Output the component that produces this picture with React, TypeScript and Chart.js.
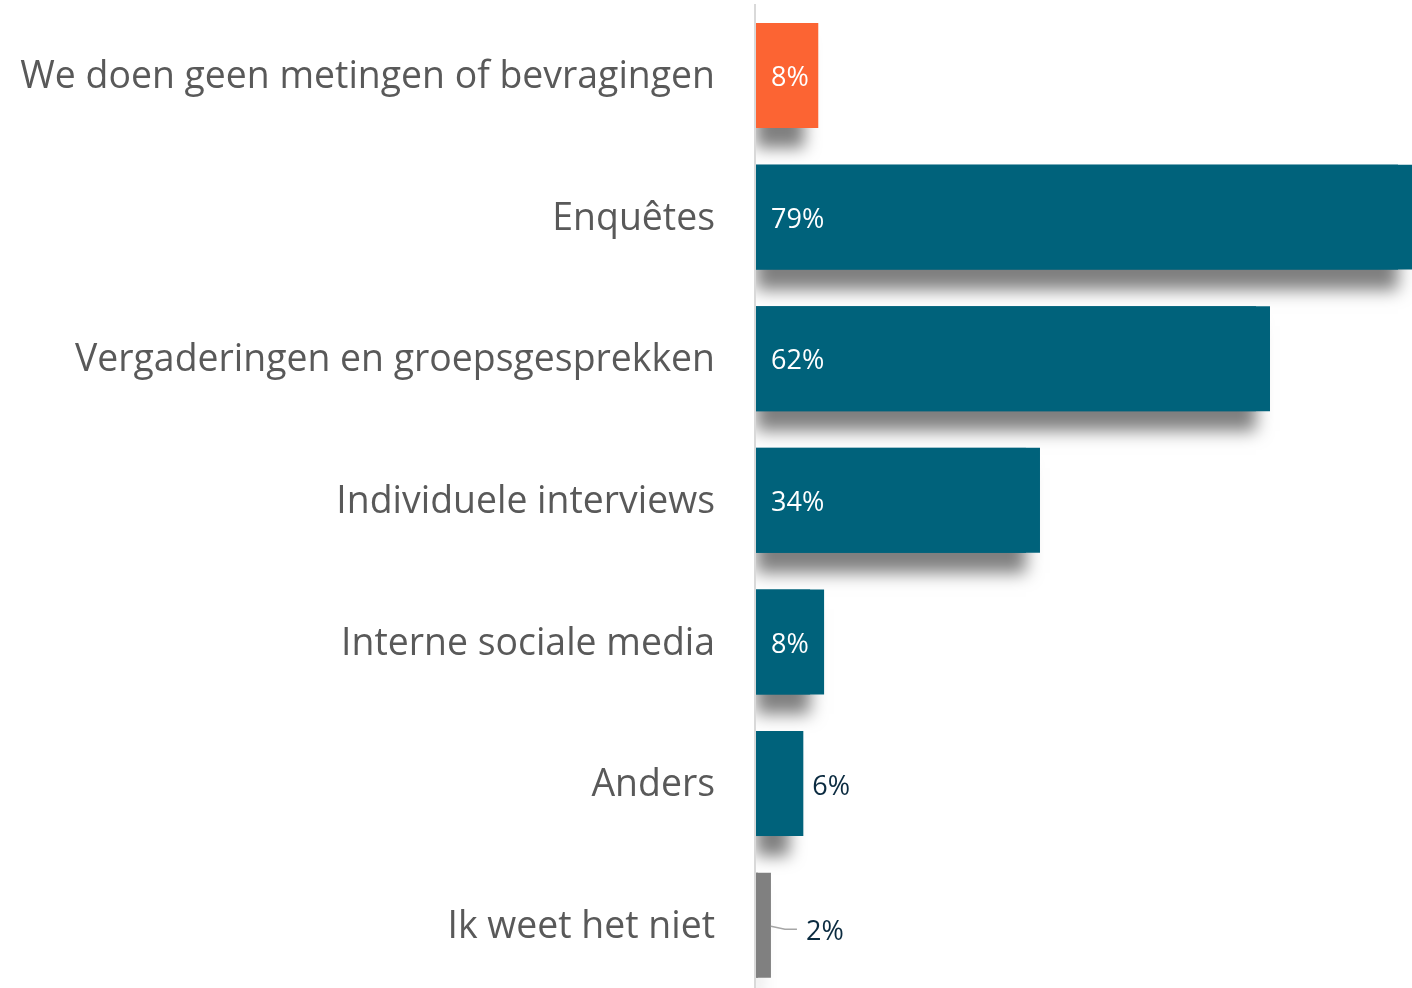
import React, { useEffect, useRef } from 'react';
import { Chart, registerables } from 'chart.js';

Chart.register(...registerables);

const categories = [
  'We doen geen metingen of bevragingen',
  'Enquêtes',
  'Vergaderingen en groepsgesprekken',
  'Individuele interviews',
  'Interne sociale media',
  'Anders',
  'Ik weet het niet',
];
const values = [7.5, 79, 61.9, 34.2, 8.2, 5.7, 1.8];
const valueLabels = ['8%', '79%', '62%', '34%', '8%', '6%', '2%'];
const barColors = ['#FC6433', '#00627B', '#00627B', '#00627B', '#00627B', '#00627B', '#808080'];

const FONT = "'Open Sans', 'Noto Sans', sans-serif";

const shadowPlugin = {
  id: 'barShadow',
  beforeDatasetsDraw(chart: any) {
    const { ctx, chartArea } = chart;
    // axis line
    ctx.save();
    ctx.fillStyle = '#D9D9D9';
    ctx.fillRect(Math.round(chartArea.left) - 2, 4, 2, chart.height);
    ctx.restore();

    const meta = chart.getDatasetMeta(0);
    ctx.save();
    ctx.beginPath();
    ctx.rect(chartArea.left, 0, chart.width, chart.height);
    ctx.clip();
    meta.data.forEach((el: any, i: number) => {
      const { x, y, base, height } = el.getProps(['x', 'y', 'base', 'height'], true);
      const left = Math.min(x, base);
      const w = Math.abs(x - base);
      ctx.save();
      ctx.shadowColor = 'rgba(0,0,0,0.5)';
      ctx.shadowBlur = 16;
      ctx.shadowOffsetX = 0;
      ctx.shadowOffsetY = 20;
      ctx.fillStyle = barColors[i];
      ctx.fillRect(left, y - height / 2, Math.max(w - 14, 2), height);
      ctx.restore();
    });
    ctx.restore();
  },
};

const labelPlugin = {
  id: 'valueLabels',
  afterDatasetsDraw(chart: any) {
    const { ctx } = chart;
    const meta = chart.getDatasetMeta(0);
    ctx.save();
    ctx.font = `27px ${FONT}`;
    ctx.textBaseline = 'middle';
    ctx.textAlign = 'left';
    meta.data.forEach((el: any, i: number) => {
      const { x, y, base } = el.getProps(['x', 'y', 'base'], true);
      const w = Math.abs(x - base);
      const text = valueLabels[i];
      if (w >= 60) {
        ctx.fillStyle = '#FFFFFF';
        ctx.fillText(text, base + 15, y + 3);
      } else if (w >= 30) {
        ctx.fillStyle = '#0B2B40';
        ctx.fillText(text, x + 9, y + 4);
      } else {
        ctx.strokeStyle = '#A6A6A6';
        ctx.lineWidth = 1.5;
        ctx.beginPath();
        ctx.moveTo(x, y + 1);
        ctx.lineTo(x + 14, y + 4);
        ctx.lineTo(x + 26, y + 4);
        ctx.stroke();
        ctx.fillStyle = '#0B2B40';
        ctx.fillText(text, x + 35, y + 7);
      }
    });
    ctx.restore();
  },
};

export default function App() {
  const canvasRef = useRef<HTMLCanvasElement | null>(null);

  useEffect(() => {
    if (!canvasRef.current) return;
    const chart = new Chart(canvasRef.current, {
      type: 'bar',
      data: {
        labels: categories,
        datasets: [
          {
            data: values,
            backgroundColor: barColors,
            borderWidth: 0,
            barPercentage: 0.741,
            categoryPercentage: 1,
          },
        ],
      },
      options: {
        indexAxis: 'y',
        responsive: false,
        animation: false,
        maintainAspectRatio: false,
        layout: { padding: { top: 4.67, left: 0, right: 0, bottom: 0 } },
        plugins: {
          legend: { display: false },
          tooltip: { enabled: false },
        },
        scales: {
          x: {
            display: false,
            min: 0,
            max: 79,
          },
          y: {
            grid: { display: false, drawTicks: false },
            border: { display: false },
            afterFit: (scale: any) => {
              scale.width = 756;
              scale.paddingTop = 0;
              scale.paddingBottom = 0;
            },
            ticks: {
              padding: 41,
              labelOffset: 2,
              color: '#595959',
              font: { family: FONT, size: 37.4 },
            },
          },
        },
      },
      plugins: [shadowPlugin, labelPlugin],
    });
    return () => chart.destroy();
  }, []);

  return (
    <div
      style={{
        position: 'fixed',
        left: 0,
        top: 0,
        width: 1412,
        height: 988,
        overflow: 'hidden',
        background: '#FFFFFF',
      }}
    >
      <canvas ref={canvasRef} width={1412} height={996} style={{ display: 'block' }} />
    </div>
  );
}
